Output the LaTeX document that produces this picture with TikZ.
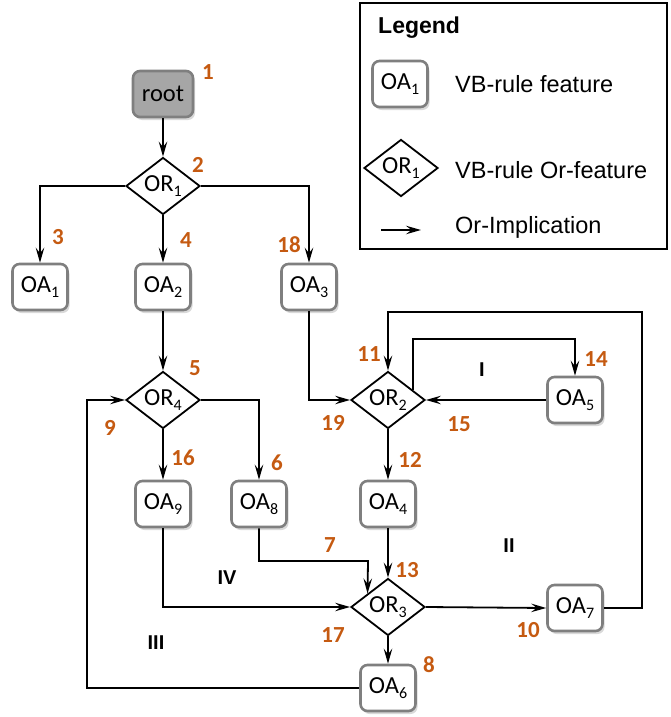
\documentclass[tikz,border=0pt]{standalone}
\usepackage{fontspec}
\setmainfont{Carlito}
\newfontfamily\arialf{Liberation Sans}
\usetikzlibrary{shapes.geometric,arrows.meta,shadows,calc}
\definecolor{lblorange}{RGB}{197,90,17}
\definecolor{boxgray}{RGB}{127,127,127}
\definecolor{rootfill}{RGB}{166,166,166}
\newcommand\mysub[1]{\raisebox{-5pt}{\fontsize{16}{16}\selectfont #1}}
\begin{document}
\begin{tikzpicture}[x=1pt,y=-1pt,
 feat/.style={draw=boxgray, line width=2.6pt, rounded corners=7pt, fill=white,
   minimum width=55pt, minimum height=46pt, inner sep=2pt,
   font=\fontsize{24.5}{24.5}\selectfont,
   drop shadow={shadow xshift=2pt, shadow yshift=-3pt, opacity=0.3}},
 orfeat/.style={diamond, draw=black, line width=1.8pt, fill=white,
   minimum width=74pt, minimum height=57pt, aspect=1.3, inner sep=0pt,
   font=\fontsize{24.5}{24.5}\selectfont},
 num/.style={text=lblorange, font=\fontsize{23}{23}\selectfont\bfseries, inner sep=0pt},
 roman/.style={font=\arialf\fontsize{20}{20}\selectfont\bfseries, inner sep=0pt},
 arr/.style={-{Stealth[length=15pt,width=8.5pt,inset=5.5pt]}, line width=1.8pt},
 legtxt/.style={font=\arialf\fontsize{23.5}{23.5}\selectfont, anchor=west, inner sep=0pt}
]
\useasboundingbox (0,0) rectangle (671,717);

% main nodes
\node[feat, fill=rootfill, minimum width=60pt] (root) at (163,94) {root};
\node[orfeat] (or1) at (163,186) {OR\mysub{1}};
\node[feat] (oa1) at (40,287) {OA\mysub{1}};
\node[feat] (oa2) at (163,287) {OA\mysub{2}};
\node[feat] (oa3) at (309,287) {OA\mysub{3}};
\node[orfeat] (or4) at (163,400) {OR\mysub{4}};
\node[orfeat] (or2) at (388,400) {OR\mysub{2}};
\node[feat] (oa5) at (575,400) {OA\mysub{5}};
\node[feat] (oa9) at (163,504) {OA\mysub{9}};
\node[feat] (oa8) at (259,504) {OA\mysub{8}};
\node[feat] (oa4) at (388,504) {OA\mysub{4}};
\node[orfeat] (or3) at (388,607) {OR\mysub{3}};
\node[feat] (oa7) at (575,608) {OA\mysub{7}};
\node[feat] (oa6) at (388,688) {OA\mysub{6}};

% helper coordinates
\coordinate (l1) at (575,339);
\coordinate (c2) at (642,312);
\coordinate (c3) at (368,561);
\coordinate (c4) at (87,400);

% connectors
\draw[arr] (root) -- (or1);
\draw[arr] (or1.west) -| (oa1.north);
\draw[arr] (or1.south) -- (oa2.north);
\draw[arr] (or1.east) -| (oa3.north);
\draw[arr] (oa2.south) -- (or4.north);
\draw[arr] (or4.east) -| (oa8.north);
\draw[arr] (or4.south) -- (oa9.north);
\draw[arr] (oa3.south) |- (or2.west);
\draw[arr] (oa5.west) -- (or2.east);
\draw[arr] ($(or2.north)!0.65!(or2.east)$) |- (l1) -- (oa5.north);
\draw[arr] (oa7.east) -| (c2) -| (or2.north);
\draw[arr] (or2.south) -- (oa4.north);
\draw[arr] (oa4.south) -- (or3.north);
\draw[arr] (oa8.south) |- (c3) -- ($(or3.north)!0.54!(or3.west)$);
\draw[arr] (oa9.south) |- (or3.west);
\draw[arr] (or3.east) -- (oa7.west);
\draw[arr] (or3.south) -- (oa6.north);
\draw[arr] (oa6.west) -| (c4) -- (or4.west);

% number labels
\node[num] (n1) at (208,72) {1};
\node[num] (n2) at (198,165) {2};
\node[num] (n3) at (58,237) {3};
\node[num] (n4) at (186,240) {4};
\node[num] (n18) at (289,245) {18};
\node[num] (n5) at (195,368) {5};
\node[num] (n9) at (110,428) {9};
\node[num] (n16) at (183,458) {16};
\node[num] (n6) at (277,463) {6};
\node[num] (n19) at (333,423) {19};
\node[num] (n11) at (369,354) {11};
\node[num] (n14) at (596,359) {14};
\node[num] (n15) at (459,424) {15};
\node[num] (n12) at (410,460) {12};
\node[num] (n7) at (330,545) {7};
\node[num] (n13) at (407,570) {13};
\node[num] (n17) at (333,635) {17};
\node[num] (n10) at (528,630) {10};
\node[num] (n8) at (429,665) {8};

% roman labels
\node[roman] (rI) at (482,370) {I};
\node[roman] (rII) at (509,546) {II};
\node[roman] (rIII) at (156,643) {III};
\node[roman] (rIV) at (227,578) {IV};

% legend
\node[draw=black, line width=2pt, minimum width=307pt, minimum height=246pt, inner sep=0pt] (legbox) at (513.5,126) {};
\node[anchor=west, inner sep=0pt, font=\arialf\fontsize{23}{23}\selectfont\bfseries] (legtitle) at (378,28) {Legend};
\node[feat] (lgoa) at (400,84) {OA\mysub{1}};
\node[legtxt] (lgt1) at (455,84) {VB-rule feature};
\node[orfeat] (lgor) at (401,168) {OR\mysub{1}};
\node[legtxt] (lgt2) at (455,170) {VB-rule Or-feature};
\coordinate (la1) at (381,230);
\coordinate (la2) at (421,230);
\draw[arr] (la1) -- (la2);
\node[legtxt] (lgt3) at (455,227) {Or-Implication};
\end{tikzpicture}
\end{document}
